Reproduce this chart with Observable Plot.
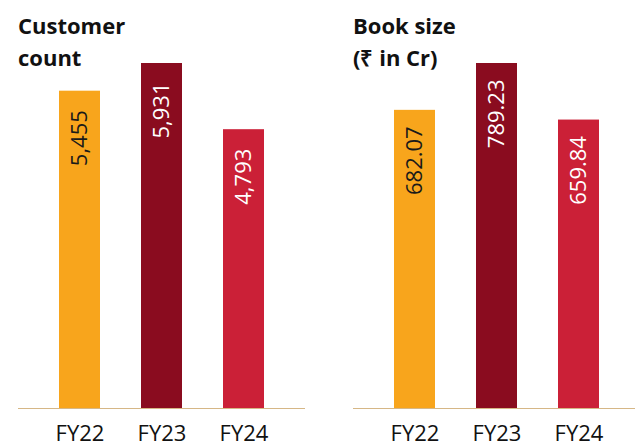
<!DOCTYPE html>
<html>
<head>
<meta charset="utf-8">
<script src="https://cdn.jsdelivr.net/npm/d3@7"></script>
<script src="https://cdn.jsdelivr.net/npm/@observablehq/plot@0.6"></script>
<style>
  html, body { margin: 0; padding: 0; background: #fff; overflow: hidden; }
  #wrap { position: relative; width: 635px; height: 443px; overflow: hidden; font-family: "Open Sans", sans-serif; }
  .title { position: absolute; top: 9px; font-size: 22px; font-weight: 700; line-height: 32px; color: #111; white-space: nowrap; }
  .panel { position: absolute; top: 62px; }
  .panel svg { display: block; max-width: none !important; }
</style>
</head>
<body>
<div id="wrap">
  <div class="title" style="left:18px">Customer<br>count</div>
  <div class="title" style="left:353px">Book size<br>(₹ in Cr)</div>
  <div class="panel" id="left" style="left:0px; width:318px"></div>
  <div class="panel" id="right" style="left:318px; width:322px"></div>
</div>
<script>
const categories = ["FY22", "FY23", "FY24"];
const customerCount = [5455, 5931, 4793];
const customerLabels = ["5,455", "5,931", "4,793"];
const bookSize = [682.07, 789.23, 659.84];
const bookLabels = ["682.07", "789.23", "659.84"];
const barColors = ["#F8A51C", "#8A0C1F", "#CB2037"];
const labelColors = ["#1a1a1a", "#ffffff", "#ffffff"];

function panel(values, labels, opts) {
  const data = categories.map((c, i) => ({cat: c, value: values[i], label: labels[i], fill: barColors[i], ink: labelColors[i]}));
  return Plot.plot({
    width: opts.width,
    height: 381,
    marginLeft: opts.marginLeft,
    marginRight: opts.marginRight,
    marginTop: 1,
    marginBottom: 35,
    style: {fontFamily: "Open Sans, sans-serif", background: "transparent", overflow: "visible", maxWidth: "none"},
    x: {domain: categories, padding: 0.5, label: null, tickSize: 0, tickPadding: 17, fontSize: 22},
    y: {domain: [0, d3.max(values)], axis: null},
    marks: [
      Plot.barY(data, {x: "cat", y: "value", fill: d => d.fill}),
      Plot.ruleY([0], {stroke: "#D6B786", strokeWidth: 1.2}),
      Plot.text(data, {x: "cat", y: "value", text: "label", rotate: -90, textAnchor: "end", lineAnchor: "middle", dy: opts.pad, fill: d => d.ink, fontSize: 22}),
      Plot.axisX({tickSize: 0, tickPadding: 17, fontSize: 22, label: null, fill: "#111"})
    ]
  });
}

document.getElementById("left").append(panel(customerCount, customerLabels, {width: 318, marginLeft: 18, marginRight: 13, pad: 19}));
document.getElementById("right").append(panel(bookSize, bookLabels, {width: 322, marginLeft: 35, marginRight: 0, pad: 16}));
</script>
</body>
</html>
